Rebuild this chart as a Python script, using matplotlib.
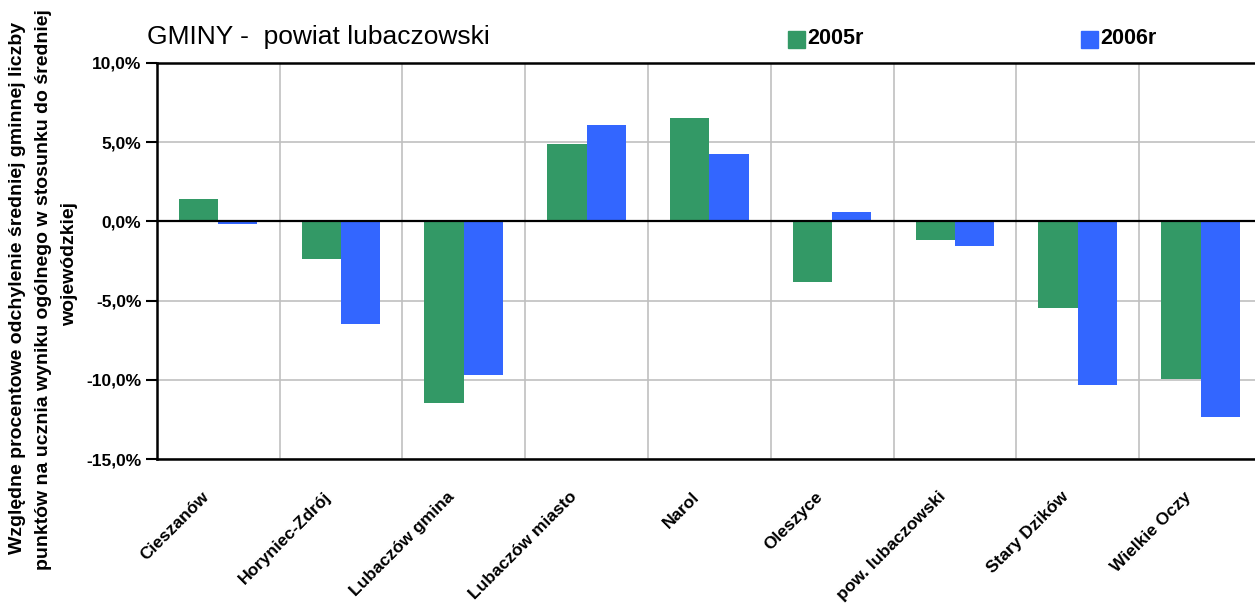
import matplotlib
matplotlib.use("Agg")
import matplotlib.pyplot as plt
import matplotlib.transforms as mtransforms
from matplotlib.ticker import FuncFormatter, FixedLocator
from matplotlib.patches import Rectangle
import numpy as np

plt.rcParams['font.family'] = ['Liberation Sans', 'DejaVu Sans']

categories = ["Cieszanów", "Horyniec-Zdrój", "Lubaczów gmina", "Lubaczów miasto",
              "Narol", "Oleszyce", "pow. lubaczowski", "Stary Dzików", "Wielkie Oczy"]
values_2005 = [1.4, -2.4, -11.45, 4.85, 6.5, -3.8, -1.15, -5.45, -9.95]
values_2006 = [-0.15, -6.45, -9.7, 6.1, 4.25, 0.6, -1.55, -10.3, -12.35]
series_labels = ["2005r", "2006r"]
title_text = "GMINY -  powiat lubaczowski"
ylabel_lines = ["Względne procentowe odchylenie średniej gminnej liczby",
                "punktów na ucznia wyniku ogólnego w stosunku do średniej",
                "wojewódzkiej"]

GREEN = "#339966"
BLUE = "#3366FF"

W, H = 1255, 604
fig = plt.figure(figsize=(W / 100, H / 100), dpi=100)
left_px, right_px, top_px, bottom_px = 156.7, 1262, 62.7, 459.3
ax = fig.add_axes([left_px / W, 1 - bottom_px / H, (right_px - left_px) / W, (bottom_px - top_px) / H])

x = np.arange(len(categories))
bw = 0.32
ax.bar(x - bw / 2, values_2005, width=bw, color=GREEN, zorder=3)
ax.bar(x + bw / 2, values_2006, width=bw, color=BLUE, zorder=3)

ax.set_xlim(-0.5, len(categories) - 0.5)
ax.set_ylim(-15, 10)
ax.set_yticks(np.arange(-15, 10.1, 5))
ax.yaxis.set_major_formatter(FuncFormatter(lambda v, p: f"{v:.1f}%".replace(".", ",")))
ax.axhline(0, color="black", lw=1.6, zorder=4)

ax.xaxis.set_minor_locator(FixedLocator(np.arange(0.5, len(categories) - 0.5, 1)))
ax.grid(True, which="minor", axis="x", color="#c0c0c0", lw=1.2, zorder=0)
ax.grid(True, which="major", axis="y", color="#c0c0c0", lw=1.2, zorder=0)
ax.tick_params(axis="x", which="both", length=0)
ax.tick_params(axis="y", length=8, width=1.5, pad=3, labelsize=12.5)

for s in ["top", "bottom", "left"]:
    ax.spines[s].set_linewidth(1.8)
    ax.spines[s].set_color("black")
ax.spines["right"].set_visible(False)
for lab in ax.get_yticklabels():
    lab.set_fontweight("bold")

ax.set_xticks(x)
ax.set_xticklabels(categories, rotation=45, ha="right", va="center",
                   rotation_mode="anchor", fontsize=12.5, fontweight="bold")
offset = mtransforms.ScaledTranslation(-0.12, -0.30, fig.dpi_scale_trans)
for lab in ax.get_xticklabels():
    lab.set_transform(lab.get_transform() + offset)

fig.text(147 / W, 1 - 37 / H, title_text, fontsize=19, ha="left", va="center")

# legend-like entries
for xs, lab, col in [(788, series_labels[0], GREEN), (1081, series_labels[1], BLUE)]:
    fig.patches.append(Rectangle((xs / W, 1 - 48 / H), 17 / W, 17 / H,
                                 transform=fig.transFigure, color=col, figure=fig))
    fig.text((xs + 19) / W, 1 - 39 / H, lab, fontsize=15.5, fontweight="bold",
             ha="left", va="center")

# rotated y-axis title, three centred lines
for xc, yc, line in [(18, 288, ylabel_lines[0]), (44, 290, ylabel_lines[1]), (70, 264, ylabel_lines[2])]:
    fig.text(xc / W, 1 - yc / H, line, rotation=90, ha="center", va="center",
             fontsize=14, fontweight="bold")

fig.savefig("out.png", dpi=100)
